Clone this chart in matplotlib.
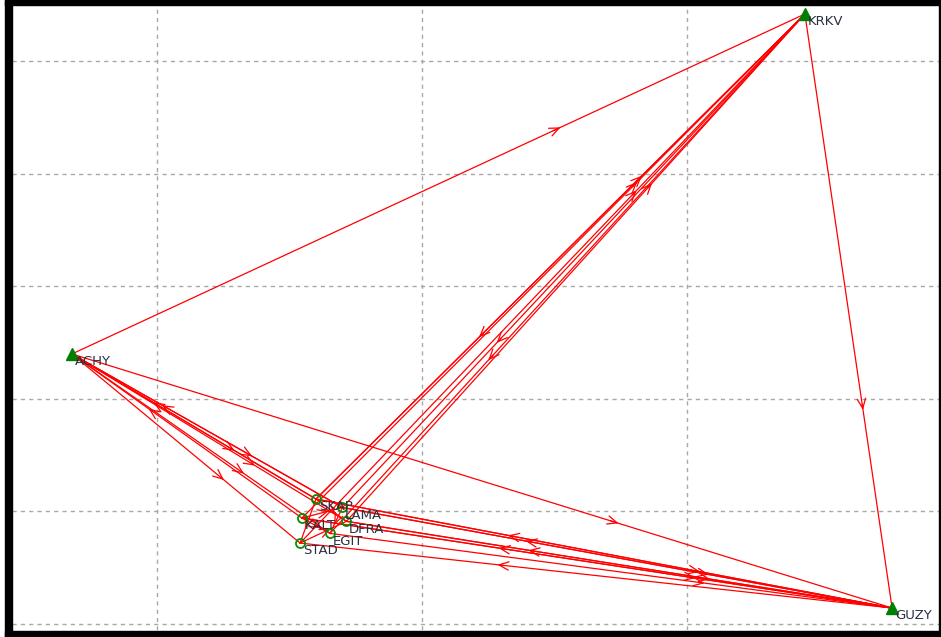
import numpy as np
import matplotlib.pyplot as plt
from matplotlib.patches import Rectangle

# station positions (grid units, y up)
names = ["KRKV", "ACHY", "GUZY", "SKAP", "KALT", "LAMA", "DFRA", "EGIT", "STAD"]
xs = [3.445, 0.679, 3.774, 1.600, 1.547, 1.700, 1.715, 1.653, 1.540]
ys = [5.417, 2.398, 0.142, 1.110, 0.941, 1.035, 0.912, 0.805, 0.719]
fixed = ["KRKV", "ACHY", "GUZY"]

# observed baselines (from, to)
baselines = [
    ("ACHY", "KRKV"), ("KRKV", "GUZY"), ("ACHY", "GUZY"),
    ("KRKV", "SKAP"), ("SKAP", "KRKV"), ("KRKV", "LAMA"), ("DFRA", "KRKV"),
    ("KRKV", "EGIT"), ("KALT", "KRKV"), ("STAD", "KRKV"),
    ("ACHY", "SKAP"), ("SKAP", "ACHY"), ("ACHY", "LAMA"), ("KALT", "ACHY"),
    ("ACHY", "DFRA"), ("ACHY", "EGIT"), ("ACHY", "STAD"), ("LAMA", "ACHY"),
    ("GUZY", "SKAP"), ("SKAP", "GUZY"), ("LAMA", "GUZY"), ("GUZY", "KALT"),
    ("DFRA", "GUZY"), ("EGIT", "GUZY"), ("GUZY", "STAD"), ("GUZY", "LAMA"),
    ("GUZY", "DFRA"), ("KALT", "GUZY"),
    ("SKAP", "STAD"), ("KALT", "LAMA"), ("LAMA", "EGIT"), ("STAD", "DFRA"),
    ("SKAP", "DFRA"), ("KALT", "EGIT"),
]

grid_x = [1, 2, 3]
grid_y = [0, 1, 2, 3, 4, 5]

pos = {n: (x, y) for n, x, y in zip(names, xs, ys)}

W, H = 941, 637
fig = plt.figure(figsize=(W / 100, H / 100), dpi=100)
ax = fig.add_axes([12 / W, 1 - 630 / H, 927 / W, 624 / H])
ax.set_xlim(0.453, 3.951)
ax.set_ylim(-0.053, 5.488)
ax.set_xticks([])
ax.set_yticks([])
for s in ax.spines.values():
    s.set_visible(False)

for gx in grid_x:
    ax.axvline(gx, color="#a8a8a8", lw=1, ls=(0, (3, 3)), zorder=0)
for gy in grid_y:
    ax.axhline(gy, color="#a8a8a8", lw=1, ls=(0, (3, 3)), zorder=0)

red = "#ff0000"
for a, b in baselines:
    x0, y0 = pos[a]
    x1, y1 = pos[b]
    ax.plot([x0, x1], [y0, y1], color=red, lw=0.9, zorder=2)
    # open arrowhead two thirds of the way along
    t = 2 / 3
    px, py = x0 + t * (x1 - x0), y0 + t * (y1 - y0)
    qx, qy = x0 + (t - 0.01) * (x1 - x0), y0 + (t - 0.01) * (y1 - y0)
    ax.annotate("", xy=(px, py), xytext=(qx, qy),
                arrowprops=dict(arrowstyle="->,head_length=0.7,head_width=0.3",
                                color=red, lw=0.9, shrinkA=0, shrinkB=0),
                zorder=2)

for n in names:
    x, y = pos[n]
    if n in fixed:
        ax.plot(x, y, marker="^", ms=8, color="#008000", mec="#008000", zorder=4)
    else:
        ax.plot(x, y, marker="o", ms=6.5, mfc="none", mec="#009000", mew=1.3, zorder=4)
    ax.annotate(n, (x, y), xytext=(2, -1), textcoords="offset points",
                ha="left", va="top", fontsize=9.5, color="#2a3040", zorder=5)

# window frame
fig.patches.append(Rectangle((5 / W, 0), 7 / W, 1, transform=fig.transFigure,
                             color="black", zorder=10))
fig.patches.append(Rectangle((5 / W, 1 - 5 / H), 1, 5 / H, transform=fig.transFigure,
                             color="black", zorder=10))
fig.patches.append(Rectangle((5 / W, 0), 1, 6 / H, transform=fig.transFigure,
                             color="black", zorder=10))
fig.patches.append(Rectangle((939 / W, 0), 2 / W, 1, transform=fig.transFigure,
                             color="black", zorder=10))

fig.savefig("out.png", dpi=100)
